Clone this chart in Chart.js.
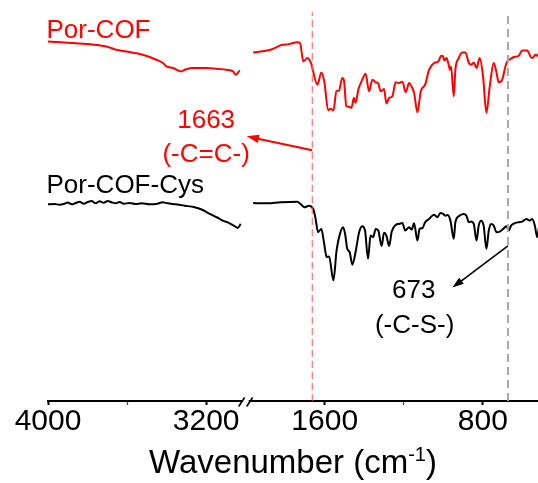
<!DOCTYPE html>
<html>
<head>
<meta charset="utf-8">
<script src="https://cdn.jsdelivr.net/npm/chart.js@4"></script>
<style>
  html, body { margin: 0; padding: 0; background: #fff; }
  canvas { display: block; }
</style>
</head>
<body>
<canvas id="ftir" width="538" height="483"></canvas>
<script>
// FTIR spectra, broken wavenumber axis (4000-3000 | 2000-520 cm-1), transmittance in a.u.
const porCofHighWn = [4000, 3705, 3654, 3604, 3520, 3452, 3418, 3401, 3368, 3325, 3308, 3274, 3199, 3148, 3097, 3064, 3050, 3030];
const porCofHighT  = [361.3, 356.3, 353, 351.3, 348, 343, 339.7, 336.3, 334.7, 331.3, 333, 334.7, 334.7, 334, 333, 331.3, 328, 332.3];

const porCofLowWn = [1962, 1874, 1815, 1781, 1739, 1725, 1708, 1688, 1671, 1637, 1617, 1601, 1583, 1570, 1556, 1541, 1528, 1511, 1502, 1491,
  1477, 1465, 1452, 1444, 1430, 1410, 1393, 1376, 1359, 1342, 1329, 1317, 1300, 1288, 1274, 1258, 1241, 1224, 1207, 1190,
  1173, 1157, 1148, 1131, 1114, 1092, 1072, 1047, 1025, 1011, 1001, 994, 984, 973, 967, 961, 947, 939, 922, 905,
  888, 871, 859, 846, 832, 816, 799, 782, 765, 745, 731, 720, 702, 686, 677, 660, 644, 618, 601, 576,
  559, 550, 534, 525, 512];
const porCofLowT = [350.3, 353, 358, 358.7, 360.7, 359.7, 341.3, 344.7, 340.3, 318, 330.3, 319.7, 292.3, 293.7, 292, 311.3, 312, 324.7, 321.3, 296.3,
  295.7, 294.7, 304.7, 299.7, 313, 323, 329, 311.3, 323, 320.3, 319, 311.3, 313.7, 299, 304.7, 306.3, 320.3, 319.7, 321, 310.3,
  319.7, 314.7, 309.7, 290.3, 311.3, 318, 333, 339.7, 341.3, 347, 346.3, 342.3, 344.7, 338, 333, 336.3, 306.3, 333, 344.7, 350.3,
  350.3, 339.7, 338, 340.3, 334.7, 344.7, 326.3, 289.7, 316.3, 339.7, 330.3, 320.3, 323, 336.3, 341.3, 343.7, 345.7, 347, 352.3, 352.3,
  346.3, 344.7, 348, 347, 352.3];

const cysHighWn = [4000, 3967, 3941, 3916, 3900, 3880, 3860, 3840, 3820, 3799, 3779, 3759, 3739, 3718, 3698, 3678, 3658, 3637, 3617, 3587,
  3556, 3526, 3487, 3446, 3421, 3395, 3355, 3308, 3258, 3217, 3181, 3147, 3116, 3086, 3060, 3040, 3025];
const cysHighT  = [197.7, 198, 197.3, 198.3, 199.5, 197.7, 199, 200.3, 198.3, 200, 201, 198.7, 200.7, 199.3, 201, 199.7, 198.7, 200, 198.3, 199,
  198, 198.7, 197.7, 198.3, 199.7, 198.7, 197.7, 196.3, 194.7, 192, 188, 184.7, 181.3, 179, 176.3, 174, 178];

const cysLowWn = [1962, 1891, 1823, 1739, 1722, 1702, 1680, 1658, 1646, 1634, 1617, 1604, 1590, 1578, 1556, 1540, 1523, 1507, 1497, 1486,
  1474, 1460, 1444, 1426, 1410, 1396, 1381, 1368, 1355, 1342, 1329, 1312, 1300, 1288, 1274, 1261, 1241, 1224, 1207, 1193,
  1173, 1160, 1148, 1131, 1120, 1106, 1092, 1072, 1047, 1030, 1015, 1001, 989, 978, 964, 947, 939, 922, 897, 883,
  871, 859, 846, 832, 821, 809, 796, 782, 770, 758, 745, 731, 715, 697, 681, 669, 657, 635, 618, 601,
  579, 563, 550, 537, 525, 512];
const cysLowT = [199, 198.7, 199.7, 200.3, 198, 194.7, 196.3, 193, 183, 169.7, 173, 159.7, 144.7, 145.3, 121.3, 151.3, 168, 174.7, 168, 153,
  149.7, 137, 149.7, 169.7, 175.7, 171.3, 143, 166.3, 164.7, 173, 171.3, 155.7, 169, 166.3, 155.7, 170.3, 177, 178, 179, 171.3,
  174.7, 172.3, 178.7, 161.3, 173, 173.7, 179.7, 183, 187.3, 184.7, 189, 188, 186.3, 187, 181.3, 163, 179.7, 185.7, 188, 186.3,
  179.7, 180.3, 178, 161.3, 176.3, 181.3, 176.3, 153, 171.3, 178, 176.3, 169.7, 170.3, 173, 175.7, 171.3, 176.3, 179, 179.7, 180.3,
  183, 181.3, 183, 176.3, 164.7, 181.3];

const labelTicks = [4000, 3200, 1600, 800];
const minorTicks = [3600, 1200];
const peakCC = 1663;
const peakCS = 673;

const FONT = "'Liberation Sans', Arial, sans-serif";
const Y_MAX = 391;

function pts(xs, ys) {
  return xs.map((x, i) => ({ x, y: ys[i] }));
}

function spectrum(label, xs, ys, axis, color) {
  return {
    label,
    data: pts(xs, ys),
    xAxisID: axis,
    borderColor: color,
    borderWidth: 2,
    pointRadius: 0,
    cubicInterpolationMode: "monotone",
    fill: false
  };
}

function marker(x, color, width, dash) {
  return {
    data: [{ x, y: 0 }, { x, y: Y_MAX }],
    xAxisID: "xLow",
    borderColor: color,
    borderWidth: width,
    borderDash: dash,
    pointRadius: 0,
    fill: false
  };
}

function wnAxis(min, max) {
  return {
    type: "linear",
    position: "bottom",
    stack: "wn",
    stackWeight: max - min,
    min,
    max,
    reverse: true,
    afterBuildTicks: scale => {
      scale.ticks = labelTicks.concat(minorTicks)
        .filter(v => v >= min && v <= max)
        .sort((a, b) => a - b)
        .map(v => ({ value: v }));
    },
    border: { display: true, color: "#000", width: 2 },
    grid: {
      drawOnChartArea: false,
      drawTicks: true,
      tickLength: 4,
      tickColor: ctx => (ctx.tick && minorTicks.includes(ctx.tick.value) ? "#444" : "#000"),
      tickWidth: ctx => (ctx.tick && minorTicks.includes(ctx.tick.value) ? 1.2 : 2)
    },
    ticks: {
      autoSkip: false,
      maxRotation: 0,
      padding: 2,
      color: "#000",
      font: { family: FONT, size: 30, lineHeight: 1 },
      callback: v => (labelTicks.includes(v) ? String(v) : "")
    }
  };
}

function arrow(ctx, x1, y1, x2, y2, color, width, head) {
  const ang = Math.atan2(y2 - y1, x2 - x1);
  ctx.save();
  ctx.strokeStyle = color;
  ctx.fillStyle = color;
  ctx.lineWidth = width;
  ctx.beginPath();
  ctx.moveTo(x1, y1);
  ctx.lineTo(x2 - Math.cos(ang) * head * 0.7, y2 - Math.sin(ang) * head * 0.7);
  ctx.stroke();
  ctx.beginPath();
  ctx.moveTo(x2, y2);
  ctx.lineTo(x2 - head * Math.cos(ang - 0.33), y2 - head * Math.sin(ang - 0.33));
  ctx.lineTo(x2 - head * Math.cos(ang + 0.33), y2 - head * Math.sin(ang + 0.33));
  ctx.closePath();
  ctx.fill();
  ctx.restore();
}

// labels, arrows, axis break and the axis title
const extras = {
  id: "extras",
  afterDraw(chart) {
    const ctx = chart.ctx;
    const { xHigh, xLow, y } = chart.scales;
    const px = (s, v) => s.getPixelForValue(v);

    function text(str, s, xv, yv, color, size, align) {
      ctx.save();
      ctx.font = size + "px " + FONT;
      ctx.fillStyle = color;
      ctx.textAlign = align;
      ctx.textBaseline = "alphabetic";
      ctx.fillText(str, px(s, xv) + (align === "left" ? -1.5 : 0), px(y, yv));
      ctx.restore();
    }

    text("Por-COF", xHigh, 4000, 365, "#ff0000", 26, "left");
    text("Por-COF-Cys", xHigh, 4000, 209, "#000", 26, "left");
    text(String(peakCC), xHigh, 3200, 274, "#ff0000", 26, "center");
    text("(-C=C-)", xHigh, 3200, 240, "#ff0000", 26, "center");
    text(String(peakCS), xLow, 1150, 104, "#000", 26, "center");
    text("(-C-S-)", xLow, 1145, 68, "#000", 26, "center");

    arrow(ctx, px(xLow, peakCC), px(y, 252), px(xLow, 1995), px(y, 266), "#ff0000", 2, 13);
    arrow(ctx, px(xLow, peakCS), px(y, 156), px(xLow, 954), px(y, 114), "#000", 1.6, 12);

    // axis break "//"
    const bx = xHigh.right;
    const by = xHigh.top + 1;
    ctx.save();
    ctx.fillStyle = "#fff";
    ctx.fillRect(bx - 3, by - 3, 6, 6);
    ctx.strokeStyle = "#000";
    ctx.lineWidth = 1.6;
    ctx.beginPath();
    ctx.moveTo(bx - 7, by + 4.5);
    ctx.lineTo(bx - 1, by - 4.5);
    ctx.moveTo(bx + 1, by + 4.5);
    ctx.lineTo(bx + 7, by - 4.5);
    ctx.stroke();
    ctx.restore();

    // x title with superscript
    const main = "Wavenumber (cm";
    const sup = "-1";
    const close = ")";
    ctx.save();
    ctx.fillStyle = "#000";
    ctx.textBaseline = "alphabetic";
    ctx.textAlign = "left";
    ctx.font = "33px " + FONT;
    const w1 = ctx.measureText(main).width;
    const w3 = ctx.measureText(close).width;
    ctx.font = "20px " + FONT;
    const w2 = ctx.measureText(sup).width;
    const cx = (chart.chartArea.left + chart.chartArea.right) / 2;
    const x0 = cx - (w1 + w2 + w3) / 2;
    const base = 473;
    ctx.font = "33px " + FONT;
    ctx.fillText(main, x0, base);
    ctx.font = "20px " + FONT;
    ctx.fillText(sup, x0 + w1, base - 12);
    ctx.font = "33px " + FONT;
    ctx.fillText(close, x0 + w1 + w2, base);
    ctx.restore();
  }
};

new Chart(document.getElementById("ftir"), {
  type: "line",
  data: {
    datasets: [
      marker(peakCC, "rgba(255, 90, 90, 0.85)", 1.2, [7, 4]),
      marker(peakCS, "#a6a6a6", 2, [8, 5]),
      spectrum("Por-COF", porCofHighWn, porCofHighT, "xHigh", "#ff0000"),
      spectrum("Por-COF", porCofLowWn, porCofLowT, "xLow", "#ff0000"),
      spectrum("Por-COF-Cys", cysHighWn, cysHighT, "xHigh", "#000"),
      spectrum("Por-COF-Cys", cysLowWn, cysLowT, "xLow", "#000")
    ]
  },
  options: {
    responsive: false,
    animation: false,
    events: [],
    layout: { padding: { left: 48, right: 0, top: 12, bottom: 44 } },
    plugins: {
      legend: { display: false },
      tooltip: { enabled: false }
    },
    scales: {
      xHigh: wnAxis(3000, 4000),
      xLow: wnAxis(521, 2000),
      y: { display: false, min: 0, max: Y_MAX }
    }
  },
  plugins: [extras]
});
</script>
</body>
</html>
